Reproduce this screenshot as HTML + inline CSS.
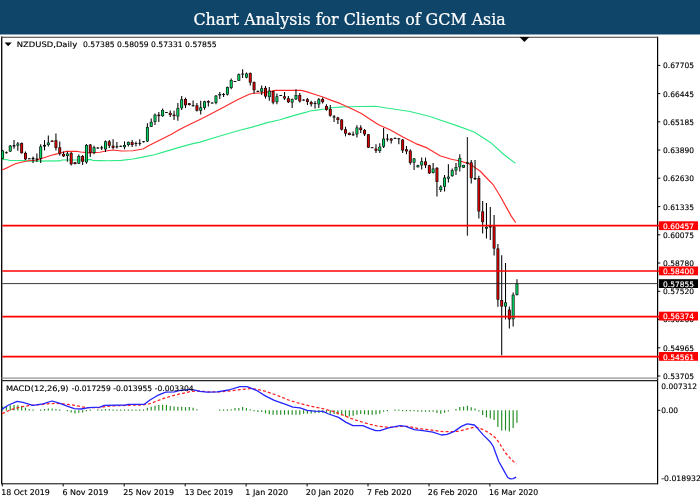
<!DOCTYPE html>
<html lang="en"><head><meta charset="utf-8"><title>Chart Analysis for Clients of GCM Asia</title>
<style>
html,body{margin:0;padding:0;background:#fff;}
body{width:700px;height:500px;overflow:hidden;position:relative;}
svg{position:absolute;left:0;top:0;display:block;}
.t{font-family:"DejaVu Sans","Liberation Sans",sans-serif;font-size:7.55px;fill:#000;stroke:#000;stroke-width:0.14px;}
.w{stroke:#fff;}
.w{fill:#fff;}
.title{font-family:"DejaVu Serif Condensed","DejaVu Serif","Liberation Serif",serif;font-stretch:condensed;font-size:16.8px;fill:#fff;stroke:#fff;stroke-width:0.22px;}
</style></head><body>
<svg width="700" height="500" viewBox="0 0 700 500">
<rect x="0" y="0" width="700" height="500" fill="#fff"/>
<rect x="0" y="0" width="700" height="34.5" fill="#10456a"/>
<text class="title" x="349.6" y="24.7" text-anchor="middle" textLength="312.4" lengthAdjust="spacingAndGlyphs">Chart Analysis for Clients of GCM Asia</text>

<g fill="none" stroke="#000" stroke-width="1">
<path d="M1.7 484.3V36.6" stroke-width="1.3"/>
<path d="M657.6 36.8V484.3" stroke-width="1.2"/>
</g>
<path d="M1 37.3H658" stroke="#3a3a3a" stroke-width="1.1" fill="none"/>
<path d="M1 378.1H658" stroke="#777" stroke-width="1" fill="none"/>
<path d="M1 380.6H658" stroke="#222" stroke-width="1.2" fill="none"/>
<path d="M2 483.8H658" stroke="#000" stroke-width="1" fill="none"/>
<path d="M2.1 159.4 L7.7 159.7 L9.4 160.5 L25.7 160.5 L28.3 161.1 L60.1 160.9 L61.9 160.0 L85.0 159.9 L91.0 159.4 L92.7 160.5 L100.0 160.6 L108.6 160.7 L121.4 160.4 L132.9 159.0 L142.9 157.1 L154.3 154.7 L165.7 151.4 L180.0 147.1 L192.9 143.6 L200.0 142.1 L220.0 136.0 L240.7 130.0 L252.1 127.1 L266.4 122.9 L280.0 119.7 L288.6 117.1 L297.1 114.6 L305.7 112.4 L310.0 111.0 L318.6 109.9 L324.6 109.0 L331.4 107.8 L340.0 107.1 L347.1 106.8 L361.4 106.5 L375.7 106.3 L386.5 108.0 L395.0 109.2 L410.0 111.5 L430.0 116.5 L440.0 120.0 L456.8 125.6 L473.6 131.8 L480.0 135.7 L490.4 142.4 L504.4 155.0 L515.6 163.4" stroke="#2eea86" stroke-width="1.15" fill="none" stroke-linejoin="round" />
<path d="M2.1 170.0 L8.6 167.1 L15.4 163.7 L22.3 162.0 L28.3 160.8 L36.0 160.3 L38.6 159.4 L44.6 157.5 L51.4 155.2 L55.0 154.4 L60.1 153.2 L66.1 151.4 L76.4 151.2 L80.7 152.0 L89.3 152.9 L100.0 152.3 L105.7 151.0 L112.9 150.0 L121.4 151.0 L132.9 150.7 L142.9 149.0 L150.0 145.0 L160.0 140.0 L171.4 134.3 L180.0 129.3 L190.0 124.3 L200.0 119.5 L209.3 114.8 L223.6 107.2 L237.9 99.6 L249.3 94.3 L253.6 93.3 L262.1 92.9 L272.1 91.1 L275.0 90.3 L295.0 90.3 L301.4 90.4 L307.1 91.9 L314.3 94.3 L322.9 97.0 L331.4 100.4 L340.0 103.4 L350.0 107.9 L361.4 113.6 L370.0 119.3 L378.6 124.7 L390.0 129.8 L402.9 137.1 L415.7 143.6 L427.1 147.9 L440.0 155.7 L451.4 159.3 L460.0 161.0 L468.6 163.6 L474.3 167.1 L480.0 171.0 L488.6 180.0 L492.9 184.3 L500.0 195.7 L507.1 208.6 L511.4 216.4 L515.7 222.6" stroke="#ff2a2a" stroke-width="1.15" fill="none" stroke-linejoin="round" />
<g id="candles">
<path d="M2.60 150.0V159.3" stroke="#000" stroke-width="1.05"/>
<rect x="1.15" y="150.7" width="2.9" height="7.9" fill="#000"/>
<rect x="1.80" y="151.2" width="1.6" height="6.9" fill="#00d060"/>
<path d="M6.41 151.4V153.6" stroke="#000" stroke-width="1.05"/>
<rect x="5.01" y="152.3" width="2.8" height="0.9" fill="#000"/>
<path d="M10.22 145.0V152.1" stroke="#000" stroke-width="1.05"/>
<rect x="8.77" y="145.7" width="2.9" height="5.7" fill="#000"/>
<rect x="9.42" y="146.2" width="1.6" height="4.7" fill="#00d060"/>
<path d="M14.03 140.1V148.7" stroke="#000" stroke-width="1.05"/>
<rect x="12.63" y="145.2" width="2.8" height="1.3" fill="#000"/>
<path d="M17.84 142.1V150.7" stroke="#000" stroke-width="1.05"/>
<rect x="16.39" y="143.6" width="2.9" height="1.9" fill="#000"/>
<rect x="17.04" y="144.1" width="1.6" height="0.9" fill="#00d060"/>
<path d="M21.65 142.6V153.6" stroke="#000" stroke-width="1.05"/>
<rect x="20.20" y="143.1" width="2.9" height="10.1" fill="#000"/>
<rect x="20.85" y="143.6" width="1.6" height="9.1" fill="#d60000"/>
<path d="M25.46 151.4V160.0" stroke="#000" stroke-width="1.05"/>
<rect x="24.01" y="152.9" width="2.9" height="6.4" fill="#000"/>
<rect x="24.66" y="153.4" width="1.6" height="5.4" fill="#d60000"/>
<path d="M29.27 158.0V159.1" stroke="#000" stroke-width="1.05"/>
<rect x="27.87" y="158.4" width="2.8" height="0.9" fill="#000"/>
<path d="M33.08 156.4V163.1" stroke="#000" stroke-width="1.05"/>
<rect x="31.68" y="157.9" width="2.8" height="1.4" fill="#000"/>
<path d="M36.89 153.6V162.1" stroke="#000" stroke-width="1.05"/>
<rect x="35.49" y="158.6" width="2.8" height="1.1" fill="#000"/>
<path d="M40.70 144.3V163.1" stroke="#000" stroke-width="1.05"/>
<rect x="39.25" y="146.4" width="2.9" height="12.1" fill="#000"/>
<rect x="39.90" y="146.9" width="1.6" height="11.1" fill="#00d060"/>
<path d="M44.51 140.1V150.4" stroke="#000" stroke-width="1.05"/>
<rect x="43.11" y="144.9" width="2.8" height="1.6" fill="#000"/>
<path d="M48.32 135.4V146.4" stroke="#000" stroke-width="1.05"/>
<rect x="46.87" y="142.6" width="2.9" height="2.4" fill="#000"/>
<rect x="47.52" y="143.1" width="1.6" height="1.4" fill="#00d060"/>
<path d="M52.13 140.3V142.0" stroke="#000" stroke-width="1.05"/>
<rect x="50.68" y="140.7" width="2.9" height="1.2" fill="#000"/>
<rect x="51.33" y="140.9" width="1.6" height="0.8" fill="#d60000"/>
<path d="M55.94 133.6V150.4" stroke="#000" stroke-width="1.05"/>
<rect x="54.49" y="140.3" width="2.9" height="7.6" fill="#000"/>
<rect x="55.14" y="140.8" width="1.6" height="6.6" fill="#d60000"/>
<path d="M59.75 141.4V155.4" stroke="#000" stroke-width="1.05"/>
<rect x="58.30" y="147.4" width="2.9" height="6.1" fill="#000"/>
<rect x="58.95" y="147.9" width="1.6" height="5.1" fill="#d60000"/>
<path d="M63.56 151.4V157.1" stroke="#000" stroke-width="1.05"/>
<rect x="62.11" y="153.9" width="2.9" height="2.4" fill="#000"/>
<rect x="62.76" y="154.4" width="1.6" height="1.4" fill="#d60000"/>
<path d="M67.37 151.4V161.7" stroke="#000" stroke-width="1.05"/>
<rect x="65.92" y="153.6" width="2.9" height="2.4" fill="#000"/>
<rect x="66.57" y="154.1" width="1.6" height="1.4" fill="#00d060"/>
<path d="M71.18 152.1V165.4" stroke="#000" stroke-width="1.05"/>
<rect x="69.73" y="152.9" width="2.9" height="11.4" fill="#000"/>
<rect x="70.38" y="153.4" width="1.6" height="10.4" fill="#d60000"/>
<path d="M74.99 162.0V164.4" stroke="#000" stroke-width="1.05"/>
<rect x="73.54" y="162.3" width="2.9" height="1.7" fill="#000"/>
<rect x="74.19" y="162.8" width="1.6" height="0.7" fill="#d60000"/>
<path d="M78.80 154.6V164.0" stroke="#000" stroke-width="1.05"/>
<rect x="77.35" y="156.0" width="2.9" height="7.6" fill="#000"/>
<rect x="78.00" y="156.5" width="1.6" height="6.6" fill="#00d060"/>
<path d="M82.61 155.0V165.0" stroke="#000" stroke-width="1.05"/>
<rect x="81.16" y="156.0" width="2.9" height="5.7" fill="#000"/>
<rect x="81.81" y="156.5" width="1.6" height="4.7" fill="#d60000"/>
<path d="M86.42 144.0V163.7" stroke="#000" stroke-width="1.05"/>
<rect x="84.97" y="145.0" width="2.9" height="17.3" fill="#000"/>
<rect x="85.62" y="145.5" width="1.6" height="16.3" fill="#00d060"/>
<path d="M90.23 144.0V157.1" stroke="#000" stroke-width="1.05"/>
<rect x="88.78" y="144.6" width="2.9" height="8.0" fill="#000"/>
<rect x="89.43" y="145.1" width="1.6" height="7.0" fill="#d60000"/>
<path d="M94.04 145.7V154.3" stroke="#000" stroke-width="1.05"/>
<rect x="92.59" y="147.4" width="2.9" height="5.4" fill="#000"/>
<rect x="93.24" y="147.9" width="1.6" height="4.4" fill="#00d060"/>
<path d="M97.85 147.1V148.6" stroke="#000" stroke-width="1.05"/>
<rect x="96.45" y="147.6" width="2.8" height="0.9" fill="#000"/>
<path d="M101.66 145.7V150.0" stroke="#000" stroke-width="1.05"/>
<rect x="100.26" y="147.4" width="2.8" height="0.9" fill="#000"/>
<path d="M105.47 140.4V152.1" stroke="#000" stroke-width="1.05"/>
<rect x="104.02" y="141.4" width="2.9" height="7.9" fill="#000"/>
<rect x="104.67" y="141.9" width="1.6" height="6.9" fill="#00d060"/>
<path d="M109.28 140.0V147.9" stroke="#000" stroke-width="1.05"/>
<rect x="107.83" y="141.4" width="2.9" height="4.3" fill="#000"/>
<rect x="108.48" y="141.9" width="1.6" height="3.3" fill="#d60000"/>
<path d="M113.09 139.3V149.3" stroke="#000" stroke-width="1.05"/>
<rect x="111.64" y="145.7" width="2.9" height="2.1" fill="#000"/>
<rect x="112.29" y="146.2" width="1.6" height="1.1" fill="#d60000"/>
<path d="M116.90 142.1V148.6" stroke="#000" stroke-width="1.05"/>
<rect x="115.50" y="146.4" width="2.8" height="0.9" fill="#000"/>
<path d="M120.71 145.6V146.7" stroke="#000" stroke-width="1.05"/>
<rect x="119.31" y="145.9" width="2.8" height="0.9" fill="#000"/>
<path d="M124.52 141.4V149.3" stroke="#000" stroke-width="1.05"/>
<rect x="123.07" y="145.0" width="2.9" height="2.1" fill="#000"/>
<rect x="123.72" y="145.5" width="1.6" height="1.1" fill="#00d060"/>
<path d="M128.33 141.4V146.4" stroke="#000" stroke-width="1.05"/>
<rect x="126.88" y="142.1" width="2.9" height="2.9" fill="#000"/>
<rect x="127.53" y="142.6" width="1.6" height="1.9" fill="#00d060"/>
<path d="M132.14 140.0V147.1" stroke="#000" stroke-width="1.05"/>
<rect x="130.69" y="142.1" width="2.9" height="2.9" fill="#000"/>
<rect x="131.34" y="142.6" width="1.6" height="1.9" fill="#d60000"/>
<path d="M135.95 141.4V146.4" stroke="#000" stroke-width="1.05"/>
<rect x="134.55" y="143.1" width="2.8" height="0.9" fill="#000"/>
<path d="M139.76 139.3V145.7" stroke="#000" stroke-width="1.05"/>
<rect x="138.36" y="142.9" width="2.8" height="0.9" fill="#000"/>
<path d="M143.57 141.0V142.4" stroke="#000" stroke-width="1.05"/>
<rect x="142.17" y="141.3" width="2.8" height="0.9" fill="#000"/>
<path d="M147.38 123.3V141.9" stroke="#000" stroke-width="1.05"/>
<rect x="145.93" y="127.1" width="2.9" height="14.3" fill="#000"/>
<rect x="146.58" y="127.6" width="1.6" height="13.3" fill="#00d060"/>
<path d="M151.19 118.6V127.1" stroke="#000" stroke-width="1.05"/>
<rect x="149.74" y="121.9" width="2.9" height="4.9" fill="#000"/>
<rect x="150.39" y="122.4" width="1.6" height="3.9" fill="#00d060"/>
<path d="M155.00 113.6V125.0" stroke="#000" stroke-width="1.05"/>
<rect x="153.55" y="114.7" width="2.9" height="7.1" fill="#000"/>
<rect x="154.20" y="115.2" width="1.6" height="6.1" fill="#00d060"/>
<path d="M158.81 112.1V121.9" stroke="#000" stroke-width="1.05"/>
<rect x="157.36" y="114.7" width="2.9" height="1.4" fill="#000"/>
<rect x="158.01" y="115.2" width="1.6" height="0.4" fill="#d60000"/>
<path d="M162.62 108.6V116.7" stroke="#000" stroke-width="1.05"/>
<rect x="161.17" y="110.0" width="2.9" height="6.1" fill="#000"/>
<rect x="161.82" y="110.5" width="1.6" height="5.1" fill="#00d060"/>
<path d="M166.43 111.9V113.0" stroke="#000" stroke-width="1.05"/>
<rect x="165.03" y="112.1" width="2.8" height="0.9" fill="#000"/>
<path d="M170.24 110.4V117.1" stroke="#000" stroke-width="1.05"/>
<rect x="168.79" y="112.9" width="2.9" height="2.1" fill="#000"/>
<rect x="169.44" y="113.4" width="1.6" height="1.1" fill="#d60000"/>
<path d="M174.05 110.7V120.0" stroke="#000" stroke-width="1.05"/>
<rect x="172.60" y="114.7" width="2.9" height="1.4" fill="#000"/>
<rect x="173.25" y="115.2" width="1.6" height="0.4" fill="#d60000"/>
<path d="M177.86 102.9V120.7" stroke="#000" stroke-width="1.05"/>
<rect x="176.41" y="108.1" width="2.9" height="8.3" fill="#000"/>
<rect x="177.06" y="108.6" width="1.6" height="7.3" fill="#00d060"/>
<path d="M181.67 96.1V110.0" stroke="#000" stroke-width="1.05"/>
<rect x="180.22" y="99.3" width="2.9" height="8.9" fill="#000"/>
<rect x="180.87" y="99.8" width="1.6" height="7.9" fill="#00d060"/>
<path d="M185.48 97.6V108.1" stroke="#000" stroke-width="1.05"/>
<rect x="184.03" y="99.0" width="2.9" height="6.3" fill="#000"/>
<rect x="184.68" y="99.5" width="1.6" height="5.3" fill="#d60000"/>
<path d="M189.29 102.9V105.4" stroke="#000" stroke-width="1.05"/>
<rect x="187.84" y="103.3" width="2.9" height="1.7" fill="#000"/>
<rect x="188.49" y="103.8" width="1.6" height="0.7" fill="#d60000"/>
<path d="M193.10 100.4V106.4" stroke="#000" stroke-width="1.05"/>
<rect x="191.70" y="105.3" width="2.8" height="0.9" fill="#000"/>
<path d="M196.91 102.9V111.4" stroke="#000" stroke-width="1.05"/>
<rect x="195.46" y="105.4" width="2.9" height="5.3" fill="#000"/>
<rect x="196.11" y="105.9" width="1.6" height="4.3" fill="#d60000"/>
<path d="M200.72 100.7V114.6" stroke="#000" stroke-width="1.05"/>
<rect x="199.27" y="107.4" width="2.9" height="3.3" fill="#000"/>
<rect x="199.92" y="107.9" width="1.6" height="2.3" fill="#00d060"/>
<path d="M204.53 100.7V109.7" stroke="#000" stroke-width="1.05"/>
<rect x="203.08" y="101.4" width="2.9" height="6.4" fill="#000"/>
<rect x="203.73" y="101.9" width="1.6" height="5.4" fill="#00d060"/>
<path d="M208.34 100.3V106.4" stroke="#000" stroke-width="1.05"/>
<rect x="206.89" y="101.1" width="2.9" height="1.4" fill="#000"/>
<rect x="207.54" y="101.6" width="1.6" height="0.4" fill="#d60000"/>
<path d="M212.15 102.3V103.4" stroke="#000" stroke-width="1.05"/>
<rect x="210.75" y="102.6" width="2.8" height="0.9" fill="#000"/>
<path d="M215.96 95.0V104.3" stroke="#000" stroke-width="1.05"/>
<rect x="214.51" y="95.7" width="2.9" height="7.1" fill="#000"/>
<rect x="215.16" y="96.2" width="1.6" height="6.1" fill="#00d060"/>
<path d="M219.77 92.1V98.9" stroke="#000" stroke-width="1.05"/>
<rect x="218.32" y="94.0" width="2.9" height="1.4" fill="#000"/>
<rect x="218.97" y="94.5" width="1.6" height="0.4" fill="#00d060"/>
<path d="M223.58 92.9V96.9" stroke="#000" stroke-width="1.05"/>
<rect x="222.18" y="94.1" width="2.8" height="0.9" fill="#000"/>
<path d="M227.39 86.4V95.4" stroke="#000" stroke-width="1.05"/>
<rect x="225.94" y="87.1" width="2.9" height="7.4" fill="#000"/>
<rect x="226.59" y="87.6" width="1.6" height="6.4" fill="#00d060"/>
<path d="M231.20 78.6V89.3" stroke="#000" stroke-width="1.05"/>
<rect x="229.75" y="80.0" width="2.9" height="7.9" fill="#000"/>
<rect x="230.40" y="80.5" width="1.6" height="6.9" fill="#00d060"/>
<path d="M235.01 80.9V82.0" stroke="#000" stroke-width="1.05"/>
<rect x="233.61" y="81.1" width="2.8" height="0.9" fill="#000"/>
<path d="M238.82 73.6V81.1" stroke="#000" stroke-width="1.05"/>
<rect x="237.37" y="74.3" width="2.9" height="6.4" fill="#000"/>
<rect x="238.02" y="74.8" width="1.6" height="5.4" fill="#00d060"/>
<path d="M242.63 69.3V77.9" stroke="#000" stroke-width="1.05"/>
<rect x="241.23" y="73.6" width="2.8" height="0.9" fill="#000"/>
<path d="M246.44 72.6V78.3" stroke="#000" stroke-width="1.05"/>
<rect x="244.99" y="73.6" width="2.9" height="3.9" fill="#000"/>
<rect x="245.64" y="74.1" width="1.6" height="2.9" fill="#00d060"/>
<path d="M250.25 72.6V85.4" stroke="#000" stroke-width="1.05"/>
<rect x="248.80" y="73.1" width="2.9" height="9.4" fill="#000"/>
<rect x="249.45" y="73.6" width="1.6" height="8.4" fill="#d60000"/>
<path d="M254.06 81.4V93.6" stroke="#000" stroke-width="1.05"/>
<rect x="252.61" y="82.1" width="2.9" height="8.1" fill="#000"/>
<rect x="253.26" y="82.6" width="1.6" height="7.1" fill="#d60000"/>
<path d="M257.87 90.6V92.0" stroke="#000" stroke-width="1.05"/>
<rect x="256.47" y="90.9" width="2.8" height="0.9" fill="#000"/>
<path d="M261.68 85.4V95.0" stroke="#000" stroke-width="1.05"/>
<rect x="260.23" y="88.3" width="2.9" height="3.4" fill="#000"/>
<rect x="260.88" y="88.8" width="1.6" height="2.4" fill="#00d060"/>
<path d="M265.49 86.0V98.6" stroke="#000" stroke-width="1.05"/>
<rect x="264.04" y="87.9" width="2.9" height="8.6" fill="#000"/>
<rect x="264.69" y="88.4" width="1.6" height="7.6" fill="#d60000"/>
<path d="M269.30 86.9V100.7" stroke="#000" stroke-width="1.05"/>
<rect x="267.85" y="90.7" width="2.9" height="6.4" fill="#000"/>
<rect x="268.50" y="91.2" width="1.6" height="5.4" fill="#00d060"/>
<path d="M273.11 90.7V104.3" stroke="#000" stroke-width="1.05"/>
<rect x="271.66" y="91.1" width="2.9" height="11.4" fill="#000"/>
<rect x="272.31" y="91.6" width="1.6" height="10.4" fill="#d60000"/>
<path d="M276.92 93.6V104.3" stroke="#000" stroke-width="1.05"/>
<rect x="275.47" y="96.4" width="2.9" height="5.7" fill="#000"/>
<rect x="276.12" y="96.9" width="1.6" height="4.7" fill="#00d060"/>
<path d="M280.73 94.9V96.0" stroke="#000" stroke-width="1.05"/>
<rect x="279.33" y="95.1" width="2.8" height="0.9" fill="#000"/>
<path d="M284.54 92.1V100.0" stroke="#000" stroke-width="1.05"/>
<rect x="283.09" y="96.4" width="2.9" height="2.1" fill="#000"/>
<rect x="283.74" y="96.9" width="1.6" height="1.1" fill="#d60000"/>
<path d="M288.35 96.0V102.9" stroke="#000" stroke-width="1.05"/>
<rect x="286.90" y="98.3" width="2.9" height="3.9" fill="#000"/>
<rect x="287.55" y="98.8" width="1.6" height="2.9" fill="#d60000"/>
<path d="M292.16 98.6V107.9" stroke="#000" stroke-width="1.05"/>
<rect x="290.71" y="99.3" width="2.9" height="3.1" fill="#000"/>
<rect x="291.36" y="99.8" width="1.6" height="2.1" fill="#00d060"/>
<path d="M295.97 89.3V100.0" stroke="#000" stroke-width="1.05"/>
<rect x="294.52" y="95.0" width="2.9" height="4.3" fill="#000"/>
<rect x="295.17" y="95.5" width="1.6" height="3.3" fill="#00d060"/>
<path d="M299.78 92.9V102.4" stroke="#000" stroke-width="1.05"/>
<rect x="298.33" y="95.0" width="2.9" height="6.4" fill="#000"/>
<rect x="298.98" y="95.5" width="1.6" height="5.4" fill="#d60000"/>
<path d="M303.59 99.3V100.7" stroke="#000" stroke-width="1.05"/>
<rect x="302.19" y="99.6" width="2.8" height="0.9" fill="#000"/>
<path d="M307.40 98.1V105.0" stroke="#000" stroke-width="1.05"/>
<rect x="305.95" y="99.3" width="2.9" height="2.6" fill="#000"/>
<rect x="306.60" y="99.8" width="1.6" height="1.6" fill="#d60000"/>
<path d="M311.21 100.7V106.4" stroke="#000" stroke-width="1.05"/>
<rect x="309.76" y="102.1" width="2.9" height="2.1" fill="#000"/>
<rect x="310.41" y="102.6" width="1.6" height="1.1" fill="#d60000"/>
<path d="M315.02 101.0V108.6" stroke="#000" stroke-width="1.05"/>
<rect x="313.62" y="103.1" width="2.8" height="0.9" fill="#000"/>
<path d="M318.83 98.1V108.1" stroke="#000" stroke-width="1.05"/>
<rect x="317.38" y="99.3" width="2.9" height="5.0" fill="#000"/>
<rect x="318.03" y="99.8" width="1.6" height="4.0" fill="#00d060"/>
<path d="M322.64 97.6V103.6" stroke="#000" stroke-width="1.05"/>
<rect x="321.19" y="99.0" width="2.9" height="3.1" fill="#000"/>
<rect x="321.84" y="99.5" width="1.6" height="2.1" fill="#d60000"/>
<path d="M326.45 104.3V110.7" stroke="#000" stroke-width="1.05"/>
<rect x="325.00" y="106.0" width="2.9" height="3.8" fill="#000"/>
<rect x="325.65" y="106.5" width="1.6" height="2.8" fill="#d60000"/>
<path d="M330.26 105.0V116.7" stroke="#000" stroke-width="1.05"/>
<rect x="328.81" y="109.0" width="2.9" height="6.7" fill="#000"/>
<rect x="329.46" y="109.5" width="1.6" height="5.7" fill="#d60000"/>
<path d="M334.07 115.0V121.9" stroke="#000" stroke-width="1.05"/>
<rect x="332.67" y="116.4" width="2.8" height="1.1" fill="#000"/>
<path d="M337.88 116.7V123.9" stroke="#000" stroke-width="1.05"/>
<rect x="336.43" y="117.6" width="2.9" height="2.4" fill="#000"/>
<rect x="337.08" y="118.1" width="1.6" height="1.4" fill="#d60000"/>
<path d="M341.69 119.0V130.4" stroke="#000" stroke-width="1.05"/>
<rect x="340.24" y="119.6" width="2.9" height="10.0" fill="#000"/>
<rect x="340.89" y="120.1" width="1.6" height="9.0" fill="#d60000"/>
<path d="M345.50 126.7V136.4" stroke="#000" stroke-width="1.05"/>
<rect x="344.05" y="129.3" width="2.9" height="4.3" fill="#000"/>
<rect x="344.70" y="129.8" width="1.6" height="3.3" fill="#d60000"/>
<path d="M349.31 132.6V135.3" stroke="#000" stroke-width="1.05"/>
<rect x="347.86" y="132.9" width="2.9" height="2.1" fill="#000"/>
<rect x="348.51" y="133.4" width="1.6" height="1.1" fill="#d60000"/>
<path d="M353.12 131.4V136.1" stroke="#000" stroke-width="1.05"/>
<rect x="351.72" y="134.3" width="2.8" height="0.9" fill="#000"/>
<path d="M356.93 125.3V137.6" stroke="#000" stroke-width="1.05"/>
<rect x="355.48" y="127.6" width="2.9" height="6.7" fill="#000"/>
<rect x="356.13" y="128.1" width="1.6" height="5.7" fill="#00d060"/>
<path d="M360.74 125.3V132.9" stroke="#000" stroke-width="1.05"/>
<rect x="359.29" y="127.6" width="2.9" height="2.4" fill="#000"/>
<rect x="359.94" y="128.1" width="1.6" height="1.4" fill="#d60000"/>
<path d="M364.55 129.0V136.1" stroke="#000" stroke-width="1.05"/>
<rect x="363.10" y="130.0" width="2.9" height="4.3" fill="#000"/>
<rect x="363.75" y="130.5" width="1.6" height="3.3" fill="#d60000"/>
<path d="M368.36 133.9V148.1" stroke="#000" stroke-width="1.05"/>
<rect x="366.91" y="134.3" width="2.9" height="13.3" fill="#000"/>
<rect x="367.56" y="134.8" width="1.6" height="12.3" fill="#d60000"/>
<path d="M372.17 147.0V148.1" stroke="#000" stroke-width="1.05"/>
<rect x="370.77" y="147.3" width="2.8" height="0.9" fill="#000"/>
<path d="M375.98 144.3V152.9" stroke="#000" stroke-width="1.05"/>
<rect x="374.53" y="148.6" width="2.9" height="2.1" fill="#000"/>
<rect x="375.18" y="149.1" width="1.6" height="1.1" fill="#d60000"/>
<path d="M379.79 143.3V152.9" stroke="#000" stroke-width="1.05"/>
<rect x="378.34" y="146.7" width="2.9" height="4.3" fill="#000"/>
<rect x="378.99" y="147.2" width="1.6" height="3.3" fill="#00d060"/>
<path d="M383.60 128.1V147.9" stroke="#000" stroke-width="1.05"/>
<rect x="382.15" y="138.6" width="2.9" height="8.1" fill="#000"/>
<rect x="382.80" y="139.1" width="1.6" height="7.1" fill="#00d060"/>
<path d="M387.41 133.9V141.4" stroke="#000" stroke-width="1.05"/>
<rect x="386.01" y="138.6" width="2.8" height="0.9" fill="#000"/>
<path d="M391.22 137.9V143.6" stroke="#000" stroke-width="1.05"/>
<rect x="389.77" y="138.6" width="2.9" height="1.9" fill="#000"/>
<rect x="390.42" y="139.1" width="1.6" height="0.9" fill="#d60000"/>
<path d="M395.03 137.6V139.0" stroke="#000" stroke-width="1.05"/>
<rect x="393.63" y="137.9" width="2.8" height="0.9" fill="#000"/>
<path d="M398.84 138.1V144.3" stroke="#000" stroke-width="1.05"/>
<rect x="397.44" y="138.3" width="2.8" height="0.9" fill="#000"/>
<path d="M402.65 139.0V152.9" stroke="#000" stroke-width="1.05"/>
<rect x="401.20" y="139.6" width="2.9" height="10.9" fill="#000"/>
<rect x="401.85" y="140.1" width="1.6" height="9.9" fill="#d60000"/>
<path d="M406.46 146.1V154.3" stroke="#000" stroke-width="1.05"/>
<rect x="405.01" y="149.3" width="2.9" height="2.1" fill="#000"/>
<rect x="405.66" y="149.8" width="1.6" height="1.1" fill="#d60000"/>
<path d="M410.27 149.3V164.7" stroke="#000" stroke-width="1.05"/>
<rect x="408.82" y="150.7" width="2.9" height="12.1" fill="#000"/>
<rect x="409.47" y="151.2" width="1.6" height="11.1" fill="#d60000"/>
<path d="M414.08 157.9V170.0" stroke="#000" stroke-width="1.05"/>
<rect x="412.63" y="158.6" width="2.9" height="3.9" fill="#000"/>
<rect x="413.28" y="159.1" width="1.6" height="2.9" fill="#00d060"/>
<path d="M417.89 164.7V167.4" stroke="#000" stroke-width="1.05"/>
<rect x="416.44" y="165.3" width="2.9" height="1.9" fill="#000"/>
<rect x="417.09" y="165.8" width="1.6" height="0.9" fill="#00d060"/>
<path d="M421.70 157.6V169.6" stroke="#000" stroke-width="1.05"/>
<rect x="420.25" y="161.4" width="2.9" height="3.9" fill="#000"/>
<rect x="420.90" y="161.9" width="1.6" height="2.9" fill="#00d060"/>
<path d="M425.51 157.6V168.1" stroke="#000" stroke-width="1.05"/>
<rect x="424.06" y="161.4" width="2.9" height="3.9" fill="#000"/>
<rect x="424.71" y="161.9" width="1.6" height="2.9" fill="#d60000"/>
<path d="M429.32 164.7V173.9" stroke="#000" stroke-width="1.05"/>
<rect x="427.87" y="165.3" width="2.9" height="8.0" fill="#000"/>
<rect x="428.52" y="165.8" width="1.6" height="7.0" fill="#d60000"/>
<path d="M433.13 162.9V173.6" stroke="#000" stroke-width="1.05"/>
<rect x="431.68" y="168.6" width="2.9" height="4.3" fill="#000"/>
<rect x="432.33" y="169.1" width="1.6" height="3.3" fill="#00d060"/>
<path d="M436.94 167.1V196.4" stroke="#000" stroke-width="1.05"/>
<rect x="435.49" y="167.9" width="2.9" height="14.0" fill="#000"/>
<rect x="436.14" y="168.4" width="1.6" height="13.0" fill="#d60000"/>
<path d="M440.75 185.3V192.1" stroke="#000" stroke-width="1.05"/>
<rect x="439.30" y="186.7" width="2.9" height="3.3" fill="#000"/>
<rect x="439.95" y="187.2" width="1.6" height="2.3" fill="#00d060"/>
<path d="M444.56 175.0V191.4" stroke="#000" stroke-width="1.05"/>
<rect x="443.11" y="177.6" width="2.9" height="9.1" fill="#000"/>
<rect x="443.76" y="178.1" width="1.6" height="8.1" fill="#00d060"/>
<path d="M448.37 164.3V182.4" stroke="#000" stroke-width="1.05"/>
<rect x="446.92" y="176.7" width="2.9" height="1.9" fill="#000"/>
<rect x="447.57" y="177.2" width="1.6" height="0.9" fill="#00d060"/>
<path d="M452.18 168.6V176.7" stroke="#000" stroke-width="1.05"/>
<rect x="450.73" y="170.4" width="2.9" height="5.7" fill="#000"/>
<rect x="451.38" y="170.9" width="1.6" height="4.7" fill="#00d060"/>
<path d="M455.99 162.9V175.0" stroke="#000" stroke-width="1.05"/>
<rect x="454.54" y="167.1" width="2.9" height="3.3" fill="#000"/>
<rect x="455.19" y="167.6" width="1.6" height="2.3" fill="#00d060"/>
<path d="M459.80 154.3V171.4" stroke="#000" stroke-width="1.05"/>
<rect x="458.35" y="157.9" width="2.9" height="9.3" fill="#000"/>
<rect x="459.00" y="158.4" width="1.6" height="8.3" fill="#00d060"/>
<path d="M463.61 164.7V167.9" stroke="#000" stroke-width="1.05"/>
<rect x="462.16" y="165.0" width="2.9" height="2.6" fill="#000"/>
<rect x="462.81" y="165.5" width="1.6" height="1.6" fill="#00d060"/>
<path d="M467.42 137.1V235.7" stroke="#333" stroke-width="1.25"/>
<rect x="466.02" y="162.4" width="2.8" height="1.2" fill="#000"/>
<path d="M471.23 160.0V183.6" stroke="#000" stroke-width="1.05"/>
<rect x="469.78" y="162.4" width="2.9" height="15.7" fill="#000"/>
<rect x="470.43" y="162.9" width="1.6" height="14.7" fill="#d60000"/>
<path d="M475.04 160.0V180.0" stroke="#000" stroke-width="1.05"/>
<rect x="473.64" y="178.0" width="2.8" height="1.2" fill="#000"/>
<path d="M478.85 175.7V218.6" stroke="#000" stroke-width="1.05"/>
<rect x="477.40" y="178.1" width="2.9" height="33.3" fill="#000"/>
<rect x="478.05" y="178.6" width="1.6" height="32.3" fill="#d60000"/>
<path d="M482.66 201.1V233.6" stroke="#000" stroke-width="1.05"/>
<rect x="481.21" y="211.4" width="2.9" height="10.7" fill="#000"/>
<rect x="481.86" y="211.9" width="1.6" height="9.7" fill="#d60000"/>
<path d="M486.47 202.9V238.6" stroke="#000" stroke-width="1.05"/>
<rect x="485.02" y="226.9" width="2.9" height="1.7" fill="#000"/>
<rect x="485.67" y="227.4" width="1.6" height="0.7" fill="#00d060"/>
<path d="M490.28 207.1V240.1" stroke="#000" stroke-width="1.05"/>
<rect x="488.88" y="226.0" width="2.8" height="1.4" fill="#000"/>
<path d="M494.09 215.0V255.6" stroke="#000" stroke-width="1.05"/>
<rect x="492.64" y="226.4" width="2.9" height="22.1" fill="#000"/>
<rect x="493.29" y="226.9" width="1.6" height="21.1" fill="#d60000"/>
<path d="M497.90 244.1V306.8" stroke="#000" stroke-width="1.05"/>
<rect x="496.45" y="248.5" width="2.9" height="51.1" fill="#000"/>
<rect x="497.10" y="249.0" width="1.6" height="50.1" fill="#d60000"/>
<path d="M501.71 255.3V355.2" stroke="#000" stroke-width="1.05"/>
<rect x="500.26" y="300.0" width="2.9" height="6.5" fill="#000"/>
<rect x="500.91" y="300.5" width="1.6" height="5.5" fill="#d60000"/>
<path d="M505.52 263.0V319.4" stroke="#000" stroke-width="1.05"/>
<rect x="504.07" y="302.4" width="2.9" height="4.1" fill="#000"/>
<rect x="504.72" y="302.9" width="1.6" height="3.1" fill="#00d060"/>
<path d="M509.33 306.5V328.4" stroke="#000" stroke-width="1.05"/>
<rect x="507.88" y="309.6" width="2.9" height="9.8" fill="#000"/>
<rect x="508.53" y="310.1" width="1.6" height="8.8" fill="#d60000"/>
<path d="M513.14 292.4V326.6" stroke="#000" stroke-width="1.05"/>
<rect x="511.69" y="294.8" width="2.9" height="24.4" fill="#000"/>
<rect x="512.34" y="295.3" width="1.6" height="23.4" fill="#00d060"/>
<path d="M516.95 279.2V295.6" stroke="#000" stroke-width="1.05"/>
<rect x="515.50" y="283.6" width="2.9" height="11.2" fill="#000"/>
<rect x="516.15" y="284.1" width="1.6" height="10.2" fill="#00d060"/>
</g>
<path d="M2.3 283.6H658" stroke="#222" stroke-width="0.9" fill="none"/>
<path d="M2.3 225.7H659" stroke="#f00" stroke-width="1.7" fill="none"/>
<path d="M2.3 271.0H659" stroke="#f00" stroke-width="1.7" fill="none"/>
<path d="M2.3 316.6H659" stroke="#f00" stroke-width="1.7" fill="none"/>
<path d="M2.3 356.6H659" stroke="#f00" stroke-width="1.7" fill="none"/>
<g id="hist" stroke="#1e8c1e" stroke-width="1.15">
<path d="M2.60 406.4V410.6"/>
<path d="M6.41 406.1V410.6"/>
<path d="M10.22 405.3V410.6"/>
<path d="M14.03 405.0V410.6"/>
<path d="M17.84 405.3V410.6"/>
<path d="M21.65 406.1V410.6"/>
<path d="M25.46 407.5V410.6"/>
<path d="M29.27 409.0V410.6"/>
<path d="M33.08 409.4V410.7"/>
<path d="M40.70 409.4V410.7"/>
<path d="M44.51 409.0V410.6"/>
<path d="M48.32 408.5V410.6"/>
<path d="M52.13 408.5V410.6"/>
<path d="M55.94 409.0V410.6"/>
<path d="M59.75 409.4V410.7"/>
<path d="M67.37 410.0V411.3"/>
<path d="M71.18 410.2V412.4"/>
<path d="M74.99 410.2V413.5"/>
<path d="M78.80 410.2V412.8"/>
<path d="M82.61 410.2V412.4"/>
<path d="M86.42 410.0V411.3"/>
<path d="M90.23 409.4V410.7"/>
<path d="M97.85 409.4V410.7"/>
<path d="M101.66 409.4V410.7"/>
<path d="M105.47 409.0V410.6"/>
<path d="M109.28 409.0V410.6"/>
<path d="M113.09 409.4V410.7"/>
<path d="M116.90 409.4V410.7"/>
<path d="M120.71 409.4V410.7"/>
<path d="M124.52 409.4V410.7"/>
<path d="M128.33 409.4V410.7"/>
<path d="M132.14 409.4V410.7"/>
<path d="M135.95 409.4V410.7"/>
<path d="M139.76 409.4V410.7"/>
<path d="M143.57 409.4V410.7"/>
<path d="M147.38 407.8V410.6"/>
<path d="M151.19 406.7V410.6"/>
<path d="M155.00 405.7V410.6"/>
<path d="M158.81 405.0V410.6"/>
<path d="M162.62 404.7V410.6"/>
<path d="M166.43 405.0V410.6"/>
<path d="M170.24 406.1V410.6"/>
<path d="M174.05 406.4V410.6"/>
<path d="M177.86 406.7V410.6"/>
<path d="M181.67 406.7V410.6"/>
<path d="M185.48 407.1V410.6"/>
<path d="M189.29 407.1V410.6"/>
<path d="M193.10 407.8V410.6"/>
<path d="M196.91 409.3V410.6"/>
<path d="M219.77 409.4V410.7"/>
<path d="M223.58 409.4V410.7"/>
<path d="M227.39 409.4V410.7"/>
<path d="M231.20 409.3V410.6"/>
<path d="M235.01 408.1V410.6"/>
<path d="M238.82 408.1V410.6"/>
<path d="M242.63 407.1V410.6"/>
<path d="M246.44 408.1V410.6"/>
<path d="M250.25 409.3V410.6"/>
<path d="M254.06 410.0V411.3"/>
<path d="M257.87 410.2V412.1"/>
<path d="M261.68 410.2V412.1"/>
<path d="M265.49 410.2V413.3"/>
<path d="M269.30 410.2V414.3"/>
<path d="M273.11 410.2V414.7"/>
<path d="M276.92 410.2V414.7"/>
<path d="M280.73 410.2V414.7"/>
<path d="M284.54 410.2V414.7"/>
<path d="M288.35 410.2V414.7"/>
<path d="M292.16 410.2V414.7"/>
<path d="M295.97 410.2V414.7"/>
<path d="M299.78 410.2V414.7"/>
<path d="M303.59 410.2V413.7"/>
<path d="M307.40 410.2V413.7"/>
<path d="M311.21 410.2V413.4"/>
<path d="M315.02 410.2V413.3"/>
<path d="M318.83 410.2V413.0"/>
<path d="M322.64 410.2V412.7"/>
<path d="M326.45 410.2V412.7"/>
<path d="M330.26 410.2V413.7"/>
<path d="M334.07 410.2V414.0"/>
<path d="M337.88 410.2V414.4"/>
<path d="M341.69 410.2V415.4"/>
<path d="M345.50 410.2V416.4"/>
<path d="M349.31 410.2V416.4"/>
<path d="M353.12 410.2V415.8"/>
<path d="M356.93 410.2V414.7"/>
<path d="M360.74 410.2V414.0"/>
<path d="M364.55 410.2V414.4"/>
<path d="M368.36 410.2V414.7"/>
<path d="M372.17 410.2V414.7"/>
<path d="M375.98 410.2V414.4"/>
<path d="M379.79 410.2V413.7"/>
<path d="M383.60 410.2V411.8"/>
<path d="M387.41 410.0V411.3"/>
<path d="M395.03 409.4V410.7"/>
<path d="M398.84 409.4V410.7"/>
<path d="M402.65 410.0V411.3"/>
<path d="M406.46 410.0V411.3"/>
<path d="M410.27 410.0V411.3"/>
<path d="M414.08 410.0V411.3"/>
<path d="M417.89 410.2V411.8"/>
<path d="M421.70 410.2V411.8"/>
<path d="M425.51 410.2V411.8"/>
<path d="M429.32 410.2V411.8"/>
<path d="M433.13 410.2V411.8"/>
<path d="M436.94 410.2V413.0"/>
<path d="M440.75 410.2V413.7"/>
<path d="M444.56 410.2V412.7"/>
<path d="M448.37 410.2V411.5"/>
<path d="M455.99 409.0V410.6"/>
<path d="M459.80 407.0V410.6"/>
<path d="M463.61 406.5V410.6"/>
<path d="M467.42 405.8V410.6"/>
<path d="M471.23 407.3V410.6"/>
<path d="M475.04 408.4V410.6"/>
<path d="M478.85 410.2V411.5"/>
<path d="M482.66 410.2V414.9"/>
<path d="M486.47 410.2V417.3"/>
<path d="M490.28 410.2V418.5"/>
<path d="M494.09 410.2V420.1"/>
<path d="M497.90 410.2V427.0"/>
<path d="M501.71 410.2V430.4"/>
<path d="M505.52 410.2V430.4"/>
<path d="M509.33 410.2V431.5"/>
<path d="M513.14 410.2V427.9"/>
<path d="M516.95 410.2V422.8"/>
</g>
<path d="M2.1 413.6 L8.6 410.7 L14.3 408.6 L21.4 406.7 L28.6 405.7 L37.1 405.0 L47.1 403.9 L54.3 403.3 L62.9 403.9 L71.4 404.7 L78.6 406.1 L85.7 407.6 L100.0 407.6 L108.6 406.1 L128.6 405.3 L142.9 405.0 L150.0 403.6 L157.1 401.0 L164.3 398.1 L174.3 395.3 L182.9 393.3 L191.4 391.4 L200.0 391.0 L208.6 391.9 L220.0 391.9 L231.4 390.7 L242.9 389.3 L250.0 388.6 L257.1 389.3 L265.7 391.4 L277.1 395.3 L288.6 400.0 L300.0 403.6 L311.4 406.4 L322.9 408.6 L332.9 411.4 L342.9 415.0 L351.4 418.6 L360.0 421.4 L368.6 424.0 L377.1 426.0 L385.7 427.1 L392.9 427.1 L400.0 426.5 L408.6 426.4 L417.1 428.3 L428.6 429.7 L440.0 431.4 L448.6 431.7 L457.1 431.4 L464.3 429.7 L471.4 427.9 L476.2 427.0 L483.4 429.7 L489.7 433.3 L496.0 438.2 L500.5 445.0 L505.0 452.3 L510.5 458.6 L516.2 464.0" stroke="#ff2020" stroke-width="1.25" fill="none" stroke-linejoin="round" stroke-dasharray="3 2.1"/>
<path d="M2.0 409.2 L2.9 408.6 L8.6 405.0 L17.1 401.4 L22.9 402.4 L32.9 405.3 L42.9 403.9 L52.1 401.0 L60.0 403.3 L67.1 406.1 L74.3 408.6 L81.4 409.0 L88.6 407.6 L100.0 407.1 L104.3 405.3 L125.7 405.0 L128.6 404.3 L144.3 404.3 L150.0 400.0 L157.1 395.7 L165.7 392.1 L174.3 391.9 L180.0 390.4 L191.4 389.3 L200.0 391.4 L207.1 392.1 L217.1 391.9 L228.6 390.0 L240.0 386.7 L247.1 386.7 L257.1 390.7 L265.7 396.1 L274.3 400.4 L285.7 404.3 L292.9 407.1 L300.0 407.8 L307.1 410.3 L314.3 411.1 L322.9 411.4 L328.6 414.0 L338.6 417.4 L345.7 422.1 L352.9 425.7 L362.9 425.7 L370.0 428.6 L375.7 430.7 L380.0 430.7 L388.6 427.9 L400.0 425.7 L405.7 426.4 L414.3 429.7 L422.9 430.7 L432.9 432.1 L441.4 435.0 L447.1 434.3 L454.3 431.4 L461.4 426.4 L467.2 423.9 L474.4 425.0 L478.0 428.8 L483.4 435.1 L490.6 442.3 L493.3 446.5 L496.0 454.0 L498.7 461.3 L503.2 469.4 L507.7 477.5 L510.5 478.9 L513.2 478.6 L516.2 477.1" stroke="#2424ff" stroke-width="1.3" fill="none" stroke-linejoin="round" />
<path d="M657.5 65.4H660.3" stroke="#000" stroke-width="1"/>
<text class="t" x="663" y="68.4" textLength="31" lengthAdjust="spacingAndGlyphs">0.67705</text>
<path d="M657.5 93.6H660.3" stroke="#000" stroke-width="1"/>
<text class="t" x="663" y="96.6" textLength="31" lengthAdjust="spacingAndGlyphs">0.66445</text>
<path d="M657.5 121.8H660.3" stroke="#000" stroke-width="1"/>
<text class="t" x="663" y="124.8" textLength="31" lengthAdjust="spacingAndGlyphs">0.65185</text>
<path d="M657.5 150.0H660.3" stroke="#000" stroke-width="1"/>
<text class="t" x="663" y="153.0" textLength="31" lengthAdjust="spacingAndGlyphs">0.63890</text>
<path d="M657.5 178.2H660.3" stroke="#000" stroke-width="1"/>
<text class="t" x="663" y="181.2" textLength="31" lengthAdjust="spacingAndGlyphs">0.62630</text>
<path d="M657.5 206.6H660.3" stroke="#000" stroke-width="1"/>
<text class="t" x="663" y="209.6" textLength="31" lengthAdjust="spacingAndGlyphs">0.61335</text>
<path d="M657.5 234.8H660.3" stroke="#000" stroke-width="1"/>
<text class="t" x="663" y="237.8" textLength="31" lengthAdjust="spacingAndGlyphs">0.60075</text>
<path d="M657.5 263.0H660.3" stroke="#000" stroke-width="1"/>
<text class="t" x="663" y="266.0" textLength="31" lengthAdjust="spacingAndGlyphs">0.58780</text>
<path d="M657.5 291.3H660.3" stroke="#000" stroke-width="1"/>
<text class="t" x="663" y="294.3" textLength="31" lengthAdjust="spacingAndGlyphs">0.57520</text>
<path d="M657.5 319.4H660.3" stroke="#000" stroke-width="1"/>
<text class="t" x="663" y="322.4" textLength="31" lengthAdjust="spacingAndGlyphs">0.56260</text>
<path d="M657.5 347.8H660.3" stroke="#000" stroke-width="1"/>
<text class="t" x="663" y="350.8" textLength="31" lengthAdjust="spacingAndGlyphs">0.54965</text>
<path d="M657.5 376.0H660.3" stroke="#000" stroke-width="1"/>
<text class="t" x="663" y="379.0" textLength="31" lengthAdjust="spacingAndGlyphs">0.53705</text>
<text class="t" x="661.3" y="389.4" textLength="35.6" lengthAdjust="spacingAndGlyphs">0.007312</text>
<path d="M657.5 410.3H660.3" stroke="#000" stroke-width="1"/>
<text class="t" x="661.3" y="413.2" textLength="16.8" lengthAdjust="spacingAndGlyphs">0.00</text>
<text class="t" x="661.3" y="480.9" textLength="39.6" lengthAdjust="spacingAndGlyphs">-0.018932</text>
<rect x="658.9" y="221.3" width="39.1" height="8.8" fill="#f00"/>
<text class="t w" x="663" y="228.8" textLength="31" lengthAdjust="spacingAndGlyphs">0.60457</text>
<rect x="658.9" y="266.5" width="39.1" height="8.8" fill="#f00"/>
<text class="t w" x="663" y="274.0" textLength="31" lengthAdjust="spacingAndGlyphs">0.58400</text>
<rect x="658.9" y="279.2" width="39.1" height="8.8" fill="#000"/>
<text class="t w" x="663" y="286.7" textLength="31" lengthAdjust="spacingAndGlyphs">0.57855</text>
<rect x="658.9" y="311.7" width="39.1" height="8.8" fill="#f00"/>
<text class="t w" x="663" y="319.2" textLength="31" lengthAdjust="spacingAndGlyphs">0.56374</text>
<rect x="658.9" y="352.0" width="39.1" height="8.8" fill="#f00"/>
<text class="t w" x="663" y="359.5" textLength="31" lengthAdjust="spacingAndGlyphs">0.54561</text>
<path d="M2.3 484V486.4" stroke="#000" stroke-width="1"/>
<text class="t" style="font-size:7.9px" x="1.2" y="494.9" textLength="48.5" lengthAdjust="spacingAndGlyphs">18 Oct 2019</text>
<path d="M63.2 484V486.4" stroke="#000" stroke-width="1"/>
<text class="t" style="font-size:7.9px" x="62.4" y="494.9" textLength="46.0" lengthAdjust="spacingAndGlyphs">6 Nov 2019</text>
<path d="M124.2 484V486.4" stroke="#000" stroke-width="1"/>
<text class="t" style="font-size:7.9px" x="123.2" y="494.9" textLength="50.8" lengthAdjust="spacingAndGlyphs">25 Nov 2019</text>
<path d="M185.2 484V486.4" stroke="#000" stroke-width="1"/>
<text class="t" style="font-size:7.9px" x="184.7" y="494.9" textLength="48.5" lengthAdjust="spacingAndGlyphs">13 Dec 2019</text>
<path d="M246.1 484V486.4" stroke="#000" stroke-width="1"/>
<text class="t" style="font-size:7.9px" x="245.3" y="494.9" textLength="42.8" lengthAdjust="spacingAndGlyphs">1 Jan 2020</text>
<path d="M307.1 484V486.4" stroke="#000" stroke-width="1"/>
<text class="t" style="font-size:7.9px" x="305.8" y="494.9" textLength="48.0" lengthAdjust="spacingAndGlyphs">20 Jan 2020</text>
<path d="M368.0 484V486.4" stroke="#000" stroke-width="1"/>
<text class="t" style="font-size:7.9px" x="366.9" y="494.9" textLength="44.6" lengthAdjust="spacingAndGlyphs">7 Feb 2020</text>
<path d="M429.0 484V486.4" stroke="#000" stroke-width="1"/>
<text class="t" style="font-size:7.9px" x="427.8" y="494.9" textLength="49.7" lengthAdjust="spacingAndGlyphs">26 Feb 2020</text>
<path d="M489.9 484V486.4" stroke="#000" stroke-width="1"/>
<text class="t" style="font-size:7.9px" x="489.0" y="494.9" textLength="49.1" lengthAdjust="spacingAndGlyphs">16 Mar 2020</text>
<path d="M4.6 42.4H11.7L8.15 46.2z" fill="#000"/>
<text class="t" x="16.7" y="46.7" textLength="60.5" lengthAdjust="spacingAndGlyphs">NZDUSD,Daily</text>
<text class="t" x="83" y="46.7" textLength="133.7" lengthAdjust="spacingAndGlyphs">0.57385 0.58059 0.57331 0.57855</text>
<text class="t" x="6.0" y="391.0" textLength="62.6" lengthAdjust="spacingAndGlyphs">MACD(12,26,9)</text>
<text class="t" x="71.7" y="391.0" textLength="122" lengthAdjust="spacingAndGlyphs">-0.017259 -0.013955 -0.003304</text>
<path d="M519.5 36.9H529.3L524.4 42.1z" fill="#000"/>
</svg></body></html>
